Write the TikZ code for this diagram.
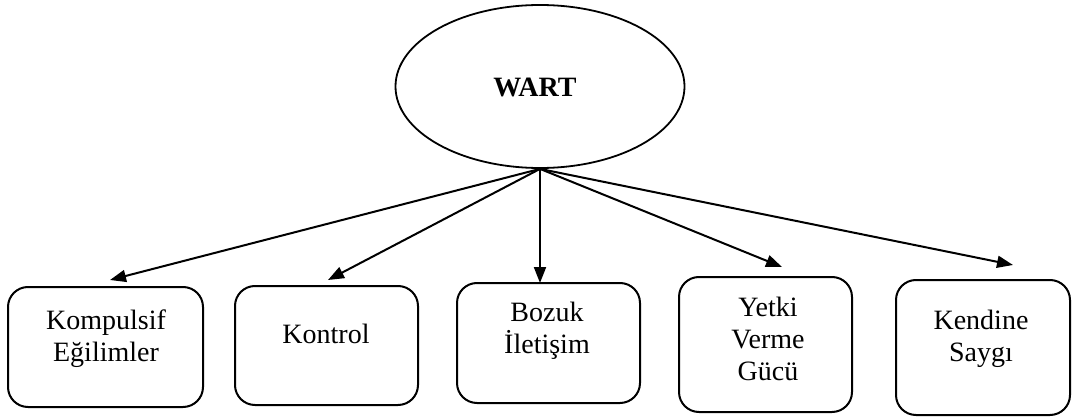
\documentclass[tikz,border=0pt]{standalone}
\usepackage{fontspec}
\setmainfont{Liberation Serif}
\usetikzlibrary{shapes.geometric,arrows.meta}
\tikzset{
  ln/.style={line width=2pt, draw=black},
  boxnode/.style={ln, rectangle, rounded corners=20pt, inner sep=0pt},
  txt/.style={font=\fontsize{28}{32}\selectfont, align=center, inner sep=0pt},
  arr/.style={ln, -{Triangle[length=16pt,width=12pt]}},
}
\begin{document}
\begin{tikzpicture}[x=1pt,y=-1pt]
\useasboundingbox (0,0) rectangle (1072,417);
% central ellipse
\node[ln, line width=1.8pt, ellipse, minimum width=289pt, minimum height=163pt, inner sep=0pt] (wart) at (540,86.5) {};
\node[txt, font=\fontsize{28}{32}\selectfont\bfseries] (wartlbl) at (535,87) {WART};
% boxes
\node[boxnode, minimum width=195pt, minimum height=120pt] (b1) at (105.5,347) {};
\node[boxnode, minimum width=183pt, minimum height=119pt] (b2) at (326.5,345.5) {};
\node[boxnode, minimum width=183pt, minimum height=120pt] (b3) at (548.5,343) {};
\node[boxnode, minimum width=173pt, minimum height=135pt] (b4) at (765.5,344.5) {};
\node[boxnode, minimum width=174pt, minimum height=135pt] (b5) at (983,347.5) {};
% labels
\node[txt] (l1) at (106,339) {Kompulsif\\Eğilimler};
\node[txt] (l2) at (326,334) {Kontrol};
\node[txt] (l3) at (547,331) {Bozuk\\İletişim};
\node[txt] (l4) at (768,339) {Yetki\\Verme\\Gücü};
\node[txt] (l5) at (981,339) {Kendine\\Saygı};
% arrow tips
\coordinate (t1) at (110,280);
\coordinate (t2) at (328,280);
\coordinate (t3) at (540,283);
\coordinate (t4) at (782,267);
\coordinate (t5) at (1013,265);
\draw[arr] (wart.south) -- (t1);
\draw[arr] (wart.south) -- (t2);
\draw[arr] (wart.south) -- (t3);
\draw[arr] (wart.south) -- (t4);
\draw[arr] (wart.south) -- (t5);
\end{tikzpicture}
\end{document}
